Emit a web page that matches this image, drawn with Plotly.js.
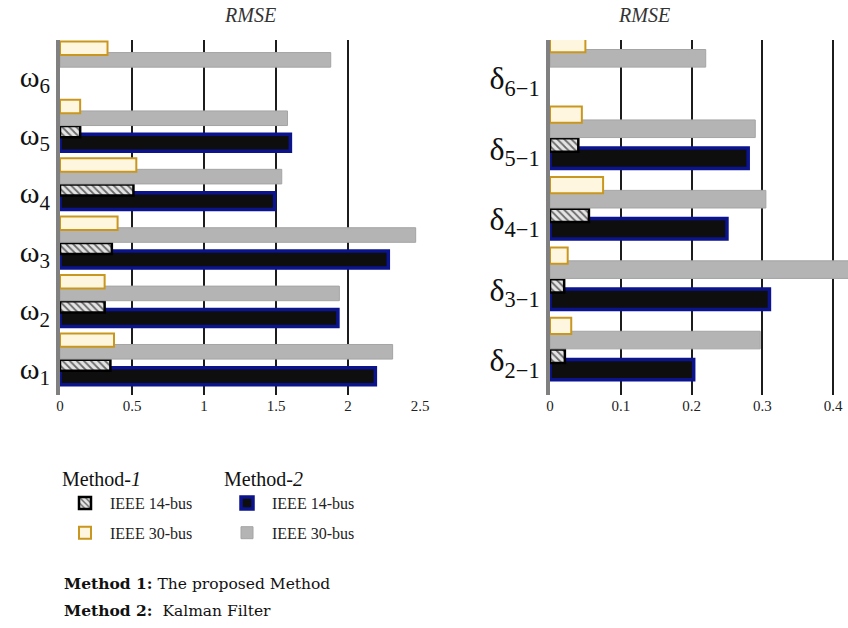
<!DOCTYPE html>
<html><head><meta charset="utf-8">
<script src="https://cdn.plot.ly/plotly-3.0.1.min.js"></script>
<style>html,body{margin:0;padding:0;background:#fff}</style>
</head><body>
<div id="chart" style="width:848px;height:628px"></div>
<script>
// Left chart: generator speed RMSE
const omegaCats = ["ω<sub>1</sub>","ω<sub>2</sub>","ω<sub>3</sub>","ω<sub>4</sub>","ω<sub>5</sub>","ω<sub>6</sub>"];
const omegaM1_14 = [0.35, 0.31, 0.36, 0.51, 0.14, null];
const omegaM1_30 = [0.375, 0.31, 0.40, 0.53, 0.14, 0.33];
const omegaM2_14 = [2.19, 1.93, 2.28, 1.49, 1.60, null];
const omegaM2_30 = [2.31, 1.94, 2.47, 1.54, 1.58, 1.88];
// Right chart: rotor angle difference RMSE
const deltaCats = ["δ<sub>2−1</sub>","δ<sub>3−1</sub>","δ<sub>4−1</sub>","δ<sub>5−1</sub>","δ<sub>6−1</sub>"];
const deltaM1_14 = [0.021, 0.02, 0.055, 0.04, null];
const deltaM1_30 = [0.03, 0.025, 0.075, 0.045, 0.05];
const deltaM2_14 = [0.203, 0.31, 0.25, 0.28, null];
const deltaM2_30 = [0.297, 0.45, 0.305, 0.29, 0.22];
const leftTicks = [0, 0.5, 1, 1.5, 2, 2.5];
const rightTicks = [0, 0.1, 0.2, 0.3, 0.4];

const serif = "Liberation Serif";
const W = {blue:0.29, hatch:0.19, gray:0.25, yellow:0.23};
const C = {blue:-0.14, hatch:0.05, gray:0.28, yellow:0.48};
function off(k){ return C[k] - W[k]/2; }

function traces(cats, m1_14, m1_30, m2_14, m2_30, xa, ya, show){
  return [
    {type:'bar', orientation:'h', x:m2_14, y:cats, xaxis:xa, yaxis:ya, name:'IEEE 14-bus',
     legend:'legend2', legendgroup:'m2a', showlegend:show, width:W.blue, offset:off('blue'),
     marker:{color:'#0e0e0e', line:{color:'#0b148c', width:3.5}}},
    {type:'bar', orientation:'h', x:m1_14, y:cats, xaxis:xa, yaxis:ya, name:'IEEE 14-bus',
     legend:'legend', legendgroup:'m1a', showlegend:show, width:W.hatch, offset:off('hatch'),
     marker:{color:'#e4e4e4', pattern:{shape:'\\', fgcolor:'#6a6a6a', bgcolor:'#e4e4e4', size:5, solidity:0.35},
             line:{color:'#000', width:2.5}}},
    {type:'bar', orientation:'h', x:m2_30, y:cats, xaxis:xa, yaxis:ya, name:'IEEE 30-bus',
     legend:'legend2', legendgroup:'m2b', showlegend:show, width:W.gray, offset:off('gray'),
     marker:{color:'#b4b4b4', line:{color:'#a4a4a4', width:1}}},
    {type:'bar', orientation:'h', x:m1_30, y:cats, xaxis:xa, yaxis:ya, name:'IEEE 30-bus',
     legend:'legend', legendgroup:'m1b', showlegend:show, width:W.yellow, offset:off('yellow'),
     marker:{color:'#fff6df', line:{color:'#c9971f', width:2}}}
  ];
}

const data = [
  ...traces(omegaCats, omegaM1_14, omegaM1_30, omegaM2_14, omegaM2_30, 'x', 'y', true),
  ...traces(deltaCats, deltaM1_14, deltaM1_30, deltaM2_14, deltaM2_30, 'x2', 'y2', false)
];

const xCommon = {showgrid:true, gridcolor:'#1c1c1c', gridwidth:2, zeroline:false, showline:false,
  ticks:'', tickfont:{family:serif, size:15, color:'#222'}, fixedrange:true};
const yCommon = {type:'category', showgrid:false, zeroline:false, showline:true, linecolor:'#808080', linewidth:4,
  ticks:'', tickfont:{family:serif, size:30, color:'#111'}, fixedrange:true};

const legendCommon = {xanchor:'left', yanchor:'top', orientation:'v', bgcolor:'rgba(0,0,0,0)',
  font:{family:serif, size:16, color:'#222'}, traceorder:'grouped', tracegroupgap:6, itemwidth:40};

const layout = {
  width:848, height:628, margin:{l:0, r:0, t:0, b:0},
  paper_bgcolor:'#fff', plot_bgcolor:'#fff',
  barmode:'overlay', showlegend:true,
  xaxis:Object.assign({}, xCommon, {domain:[60/848, 420/848], range:[0, 2.5], tickvals:leftTicks, ticktext:leftTicks.map(String), anchor:'y'}),
  yaxis:Object.assign({}, yCommon, {domain:[1-395/628, 1-40/628], range:[-0.46, 5.62], anchor:'x',
        categoryorder:'array', categoryarray:omegaCats}),
  xaxis2:Object.assign({}, xCommon, {domain:[550/848, 1], range:[0, 0.421], tickvals:rightTicks, ticktext:rightTicks.map(String), anchor:'y2'}),
  yaxis2:Object.assign({}, yCommon, {domain:[1-395/628, 1-40/628], range:[-0.5, 4.54], anchor:'x2',
        categoryorder:'array', categoryarray:deltaCats, tickfont:{family:serif, size:32, color:'#111'}}),
  legend:Object.assign({}, legendCommon, {x:60/848, y:1-460/628,
    title:{text:'Method-<i>1</i>', font:{family:serif, size:20, color:'#111'}}}),
  legend2:Object.assign({}, legendCommon, {x:222/848, y:1-460/628,
    title:{text:'Method-<i>2</i>', font:{family:serif, size:20, color:'#111'}}}),
  annotations:[
    {text:'<i>RMSE</i>', xref:'paper', yref:'paper', x:222/848, y:1-15/628, yanchor:'middle', showarrow:false,
     font:{family:serif, size:20, color:'#333'}},
    {text:'<i>RMSE</i>', xref:'paper', yref:'paper', x:672/848, y:1-15/628, yanchor:'middle', showarrow:false,
     font:{family:serif, size:20, color:'#333'}},
    {text:'<b>Method 1:</b> The proposed Method', xref:'paper', yref:'paper', x:62/848, y:1-583/628,
     xanchor:'left', yanchor:'middle', showarrow:false, font:{family:'DejaVu Serif', size:15.5, color:'#111'}},
    {text:'<b>Method 2:</b>  Kalman Filter', xref:'paper', yref:'paper', x:62/848, y:1-610/628,
     xanchor:'left', yanchor:'middle', showarrow:false, font:{family:'DejaVu Serif', size:15.5, color:'#111'}}
  ]
};

Plotly.newPlot('chart', data, layout, {staticPlot:true, displayModeBar:false});
</script>
</body></html>
